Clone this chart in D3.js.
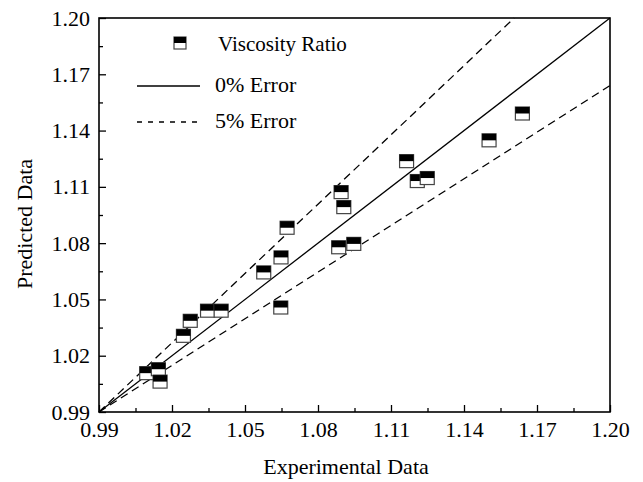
<!DOCTYPE html>
<html>
<head>
<meta charset="utf-8">
<script src="https://cdn.jsdelivr.net/npm/d3@7"></script>
<style>
  html, body { margin: 0; padding: 0; background: #fff; }
  svg { display: block; }
  text { font-family: "Liberation Serif", "Times New Roman", serif; fill: #000; }
</style>
</head>
<body>
<svg id="chart" width="643" height="482"></svg>
<script>
// Measured vs. predicted viscosity ratio
const experimental = [1.0096, 1.0144, 1.0151, 1.0247, 1.0275, 1.0346, 1.0402, 1.0577, 1.0648, 1.0647,
                      1.0673, 1.0885, 1.0947, 1.0895, 1.0906, 1.1164, 1.1208, 1.1249, 1.1503, 1.1640];
const predicted    = [1.0107, 1.0128, 1.0062, 1.0306, 1.0386, 1.0440, 1.0440, 1.0644, 1.0724, 1.0457,
                      1.0882, 1.0778, 1.0796, 1.1072, 1.0992, 1.1237, 1.1131, 1.1147, 1.1348, 1.1491];

// Reference lines (start and end points in data units)
const perfectLine = [[0.99, 0.99], [1.20, 1.20]];
const upperErrorLine = [[0.99, 0.99], [1.1606, 1.20]];
const lowerErrorLine = [[0.99, 0.99], [1.20, 1.164]];

const tickValues = [0.99, 1.02, 1.05, 1.08, 1.11, 1.14, 1.17, 1.20];
const minorTickValues = [1.005, 1.035, 1.065, 1.095, 1.125, 1.155, 1.185];

const legendLabels = ["Viscosity Ratio", "0% Error", "5% Error"];
const xTitle = "Experimental Data";
const yTitle = "Predicted Data";

const svg = d3.select("#chart");
const plot = { left: 99, right: 610, top: 18, bottom: 412 };

const x = d3.scaleLinear().domain([0.99, 1.20]).range([plot.left, plot.right]);
const y = d3.scaleLinear().domain([0.99, 1.20]).range([plot.bottom, plot.top]);

const fmt = d3.format(".2f");

// Reference lines
const line = d3.line().x(d => x(d[0])).y(d => y(d[1]));
const g = svg.append("g");
g.append("path").attr("d", line(perfectLine))
  .attr("fill", "none").attr("stroke", "#000").attr("stroke-width", 1.3);
[upperErrorLine, lowerErrorLine].forEach(l => {
  g.append("path").attr("d", line(l))
    .attr("fill", "none").attr("stroke", "#000").attr("stroke-width", 1.3)
    .attr("stroke-dasharray", "8,5");
});

// Half-filled square markers
const mw = 14, mh = 13;
const pts = experimental.map((v, i) => [v, predicted[i]]);
const marks = svg.append("g").selectAll("g").data(pts).join("g")
  .attr("transform", d => `translate(${x(d[0])},${y(d[1])})`);
marks.append("rect")
  .attr("x", -mw / 2).attr("y", -mh / 2).attr("width", mw).attr("height", mh)
  .attr("fill", "#fff").attr("stroke", "#444").attr("stroke-width", 1.2);
marks.append("rect")
  .attr("x", -mw / 2).attr("y", -mh / 2).attr("width", mw).attr("height", mh / 2)
  .attr("fill", "#000");

// Axes with inward ticks
const xAxis = d3.axisBottom(x).tickValues(tickValues).tickFormat(fmt).tickSizeInner(-7).tickSizeOuter(0).tickPadding(9);
const yAxis = d3.axisLeft(y).tickValues(tickValues).tickFormat(fmt).tickSizeInner(-7).tickSizeOuter(0).tickPadding(9);
const xMinor = d3.axisBottom(x).tickValues(minorTickValues).tickFormat("").tickSizeInner(-4).tickSizeOuter(0);
const yMinor = d3.axisLeft(y).tickValues(minorTickValues).tickFormat("").tickSizeInner(-4).tickSizeOuter(0);

function styleAxis(sel) {
  sel.select(".domain").remove();
  sel.selectAll("line").attr("stroke", "#000").attr("stroke-width", 1.3);
  sel.selectAll("text").attr("font-size", 22).attr("font-family", "Liberation Serif");
}
svg.append("g").attr("transform", `translate(0,${plot.bottom})`).call(xAxis).call(styleAxis);
svg.append("g").attr("transform", `translate(${plot.left},0)`).call(yAxis).call(styleAxis);
svg.append("g").attr("transform", `translate(0,${plot.bottom})`).call(xMinor).call(styleAxis);
svg.append("g").attr("transform", `translate(${plot.left},0)`).call(yMinor).call(styleAxis);

// Frame
svg.append("rect")
  .attr("x", plot.left).attr("y", plot.top)
  .attr("width", plot.right - plot.left).attr("height", plot.bottom - plot.top)
  .attr("fill", "none").attr("stroke", "#000").attr("stroke-width", 1.6);

// Axis titles
svg.append("text").attr("x", 346).attr("y", 474)
  .attr("text-anchor", "middle").attr("font-size", 22).text(xTitle);
svg.append("text").attr("transform", `translate(32,224) rotate(-90)`)
  .attr("text-anchor", "middle").attr("font-size", 22).text(yTitle);

// Legend
const legend = svg.append("g");
const lm = legend.append("g").attr("transform", "translate(180,43)");
lm.append("rect").attr("x", -6).attr("y", -6).attr("width", 12).attr("height", 12)
  .attr("fill", "#fff").attr("stroke", "#444").attr("stroke-width", 1.2);
lm.append("rect").attr("x", -6).attr("y", -6).attr("width", 12).attr("height", 6).attr("fill", "#000");
legend.append("text").attr("x", 218).attr("y", 51).attr("font-size", 21).text(legendLabels[0]);

legend.append("line").attr("x1", 137).attr("x2", 200).attr("y1", 86).attr("y2", 86)
  .attr("stroke", "#000").attr("stroke-width", 1.3);
legend.append("text").attr("x", 215).attr("y", 92).attr("font-size", 22).text(legendLabels[1]);

legend.append("line").attr("x1", 137).attr("x2", 200).attr("y1", 122).attr("y2", 122)
  .attr("stroke", "#000").attr("stroke-width", 1.3).attr("stroke-dasharray", "5,6");
legend.append("text").attr("x", 215).attr("y", 128).attr("font-size", 22).text(legendLabels[2]);
</script>
</body>
</html>
